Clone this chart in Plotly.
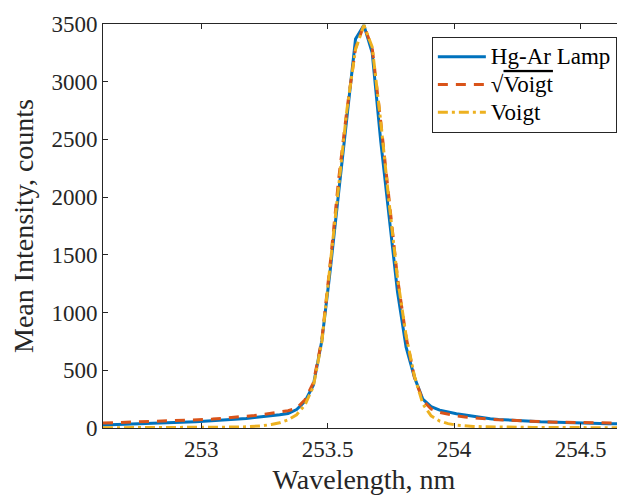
import plotly.graph_objects as go

# Wavelength samples (nm)
wavelength = [
    252.611, 252.644, 252.677, 252.711, 252.744, 252.777, 252.811, 252.844,
    252.877, 252.910, 252.944, 252.977, 253.010, 253.044, 253.077, 253.110,
    253.144, 253.177, 253.210, 253.243, 253.277, 253.310, 253.343, 253.377,
    253.410, 253.443, 253.477, 253.510, 253.543, 253.576, 253.610, 253.643,
    253.676, 253.710, 253.743, 253.776, 253.810, 253.843, 253.876, 253.909,
    253.943, 253.976, 254.009, 254.043, 254.076, 254.109, 254.143, 254.176,
    254.209, 254.242, 254.276, 254.309, 254.342, 254.376, 254.409, 254.442,
    254.476, 254.509, 254.542, 254.576, 254.609, 254.642, 254.676,
]

# Measured Hg-Ar lamp mean intensity (counts)
lamp = [
    27, 29, 31, 33, 35, 37, 40, 42,
    45, 48, 51, 55, 59, 63, 67, 72,
    77, 83, 90, 97, 104, 114, 125, 160,
    230, 370, 760, 1369, 2036, 2700, 3370, 3490,
    3250, 2478, 1800, 1180, 700, 440, 250, 185,
    155, 137, 123, 112, 100, 87, 80, 74,
    69, 65, 61, 57, 54, 52, 49, 47,
    45, 43, 41, 39, 37, 36, 35,
]

# sqrt(Voigt) fit
sqrt_voigt = [
    43, 45, 47, 49, 51, 53, 55, 58,
    60, 63, 66, 70, 73, 77, 82, 87,
    93, 100, 108, 117, 128, 140, 150, 170,
    245, 390, 770, 1430, 2150, 2760, 3290, 3490,
    3290, 2650, 1950, 1300, 790, 440, 240, 165,
    135, 118, 105, 96, 88, 82, 76, 71,
    67, 62, 59, 56, 54, 52, 50, 49,
    48, 47, 46, 45, 44, 43, 42,
]

# Voigt fit
voigt = [
    2, 2, 2, 2, 3, 3, 3, 3,
    4, 4, 4, 5, 5, 6, 6, 7,
    8, 10, 13, 20, 30, 45, 70, 115,
    200, 360, 750, 1420, 2150, 2760, 3280, 3490,
    3300, 2650, 1950, 1300, 800, 450, 210, 105,
    60, 38, 25, 18, 14, 11, 9, 8,
    7, 6, 6, 5, 5, 4, 4, 4,
    3, 3, 3, 3, 2, 2, 2,
]

x_ticks = [253, 253.5, 254, 254.5]
x_tick_labels = ["253", "253.5", "254", "254.5"]
y_ticks = [0, 500, 1000, 1500, 2000, 2500, 3000, 3500]

FONT = "Liberation Serif"
AX = "#262626"


def big(s):
    return "<span style='font-size:23px'>" + s + "</span>"


fig = go.Figure()
fig.add_trace(go.Scatter(x=wavelength, y=lamp, mode="lines", name=big("Hg-Ar Lamp"),
                         line=dict(color="#0072BD", width=3)))
fig.add_trace(go.Scatter(x=wavelength, y=sqrt_voigt, mode="lines",
                         name=big("√<span style='text-decoration:overline'>Voigt</span>"),
                         line=dict(color="#D95319", width=3, dash="10px,8px")))
fig.add_trace(go.Scatter(x=wavelength, y=voigt, mode="lines", name=big("Voigt"),
                         line=dict(color="#EDB120", width=3, dash="10px,4px,3px,4px")))

# The page body has an 8px margin, so the figure is sized to end at the window edge.
fig.update_layout(
    width=617, height=487,
    margin=dict(l=95, r=0, t=16, b=67, autoexpand=False),
    paper_bgcolor="white", plot_bgcolor="white",
    font=dict(family=FONT, size=23, color="#262626"),
    showlegend=True,
    legend=dict(x=0.630, y=0.968, xanchor="left", yanchor="top",
                bgcolor="white", bordercolor=AX, borderwidth=1,
                font=dict(family=FONT, size=19, color="black"),
                itemwidth=48, tracegroupgap=0),
    xaxis=dict(range=[252.611, 254.676], tickvals=x_ticks, ticktext=x_tick_labels,
               ticks="inside", ticklen=5, tickcolor=AX, showline=True, linecolor=AX,
               linewidth=1, mirror="ticks", showgrid=False, zeroline=False,
               automargin=False,
               tickfont=dict(size=23, color="#262626"),
               title=dict(text="Wavelength, nm", font=dict(size=28, color="#262626"), standoff=8)),
    yaxis=dict(range=[0, 3500], tickvals=y_ticks,
               ticks="inside", ticklen=5, tickcolor=AX, showline=True, linecolor=AX,
               linewidth=1, showgrid=False, zeroline=False,
               automargin=False,
               tickfont=dict(size=23, color="#262626"),
               title=dict(text="Mean Intensity, counts", font=dict(size=28, color="#262626"), standoff=12)),
)

fig.write_html("out.html")
